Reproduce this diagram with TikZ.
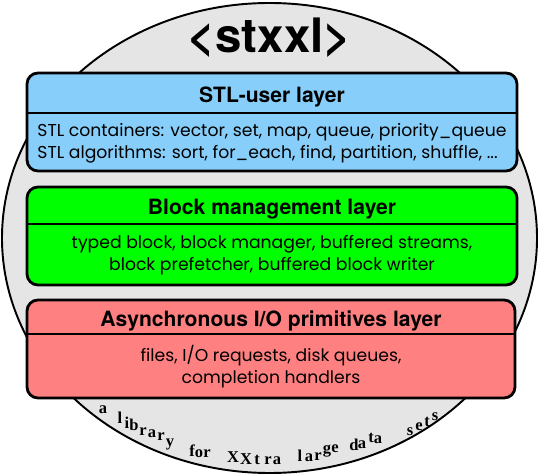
\documentclass[tikz,border=0pt]{standalone}
\usepackage{fontspec}
\setmainfont{Liberation Serif}
\newfontfamily\headfont{TeX Gyre Heros}
\newfontfamily\bodyfont{Poppins}
\definecolor{stlblue}{RGB}{135,206,250}
\definecolor{blockgreen}{RGB}{0,255,0}
\definecolor{iored}{RGB}{255,128,128}
\definecolor{disc}{RGB}{229,229,229}
\tikzset{
  layerbox/.style={draw, line width=1.6pt, rounded corners=0.22cm},
  divider/.style={line width=1.2pt},
  headtext/.style={font=\headfont\bfseries\fontsize{12}{14}\selectfont},
  bodytext/.style={font=\bodyfont\fontsize{9.8}{12.5}\selectfont, align=center, inner sep=0pt},
  tagletter/.style={font=\bfseries\fontsize{9.4}{10}\selectfont, anchor=base, inner sep=0pt}
}
\begin{document}
\begin{tikzpicture}
\useasboundingbox (0,0) rectangle (10.78,9.5);

% The big disc behind the layers
\draw[fill=disc, line width=1.1pt] (5.39,4.74) ellipse [x radius=5.35, y radius=4.70];
\node[font=\headfont\bfseries\fontsize{27}{30}\selectfont] (title) at (5.39,8.74) {<stxxl>};

% STL-user layer
\draw[layerbox, fill=stlblue] (0.54,6.08) rectangle (10.34,8.04);
\draw[divider] (0.54,7.24) -- (10.34,7.24);
\node[headtext] (stlhead) at (5.44,7.56) {STL-user layer};
\node[bodytext, align=left] (stlbody) at (5.44,6.64) {STL containers: vector, set, map, queue, priority\_queue\\
STL algorithms: sort, for\_each, find, partition, shuffle, ...};

% Block management layer
\draw[layerbox, fill=blockgreen] (0.54,3.80) rectangle (10.34,5.76);
\draw[divider] (0.54,5.02) -- (10.34,5.02);
\node[headtext] (blockhead) at (5.44,5.31) {Block management layer};
\node[bodytext] (blockbody) at (5.44,4.40) {typed block, block manager, buffered streams,\\
block prefetcher, buffered block writer};

% Asynchronous I/O primitives layer
\draw[layerbox, fill=iored] (0.54,1.54) rectangle (10.30,3.50);
\draw[divider] (0.54,2.82) -- (10.30,2.82);
\node[headtext] (iohead) at (5.42,3.08) {Asynchronous I/O primitives layer};
\node[bodytext] (iobody) at (5.42,2.16) {files, I/O requests, disk queues,\\
completion handlers};

% The motto along the lower rim
\foreach \ch/\px/\py [count=\i] in {a/103/413, l/120/423, i/127/428, b/134/430, r/143/435,
  a/152/437, r/161/440, y/170/446, f/192/456, o/199/457, r/207/457, X/233/462, X/246/464,
  t/257/464, r/268/464, a/277/464, l/300/461, a/309/461, r/318/460, g/327/453, e/335/452,
  d/354/450, a/362/448, t/371/442, a/378/443, s/410/435, e/419/430, t/427/426, s/435/420}
  \node[tagletter] (ch\i) at ({\px/50},{9.5-\py/50}) {\ch};
\end{tikzpicture}
\end{document}
